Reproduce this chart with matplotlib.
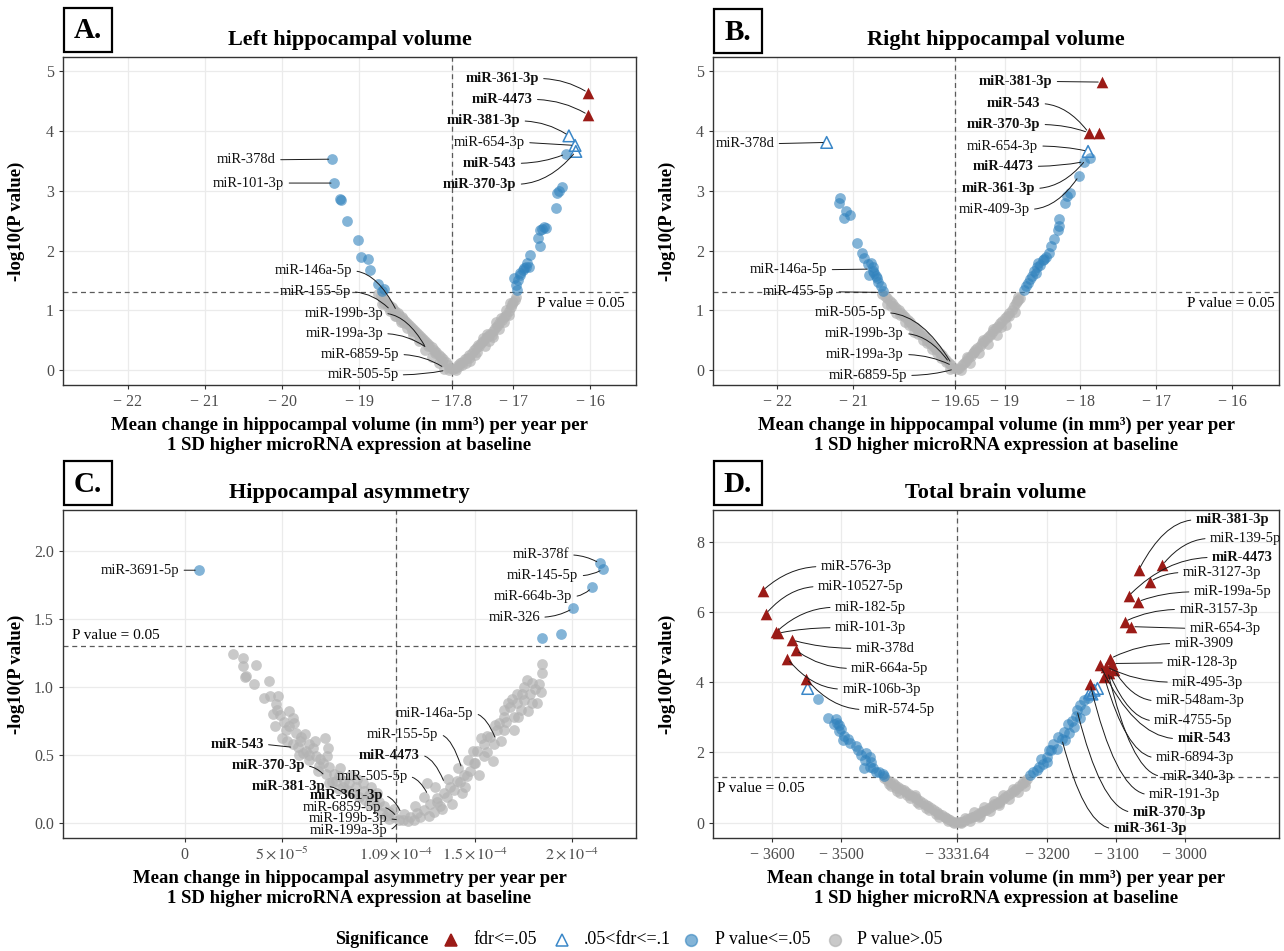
import numpy as np
import matplotlib.pyplot as plt
from matplotlib.lines import Line2D
from matplotlib.patches import Rectangle

plt.rcParams['font.family'] = ['Liberation Serif', 'DejaVu Serif']
plt.rcParams['mathtext.fontset'] = 'stix'

RED = '#9B1B17'
BLUE = '#3182BD'
GREY = '#B3B3B3'
BOLD = {'miR-361-3p', 'miR-4473', 'miR-381-3p', 'miR-543', 'miR-370-3p'}
P_LINE = -np.log10(0.05)

# ---------------- A. Left hippocampal volume ----------------
A_red_x = [-16.03, -16.03]
A_red_y = [4.64, 4.27]
A_open_x = [-16.28, -16.20, -16.19]
A_open_y = [3.92, 3.76, 3.66]
A_blue_x = [-19.35, -19.32, -19.25, -19.23, -19.16, -19.01, -18.98, -18.88, -18.86, -18.75, -18.68, -18.71,
            -16.32, -16.37, -16.41, -16.43, -16.45, -16.60, -16.63, -16.58, -16.66, -16.68, -16.66, -16.78,
            -16.82, -16.80, -16.83, -16.88, -16.92, -16.99, -16.94, -16.97, -16.95, -16.91, -16.86]
A_blue_y = [3.53, 3.13, 2.86, 2.85, 2.50, 2.18, 1.90, 1.86, 1.68, 1.44, 1.35, 1.32,
            3.62, 3.06, 2.99, 2.96, 2.71, 2.39, 2.36, 2.37, 2.35, 2.21, 2.07, 1.93,
            1.80, 1.73, 1.72, 1.68, 1.59, 1.54, 1.51, 1.42, 1.34, 1.62, 1.70]
A_grey_x = [-18.76, -18.72, -18.69, -18.66, -18.64, -18.61, -18.58, -18.56, -18.53, -18.50,
            -18.48, -18.45, -18.43, -18.40, -18.38, -18.35, -18.33, -18.30, -18.28, -18.25,
            -18.22, -18.20, -18.17, -18.14, -18.12, -18.09, -18.06, -18.03, -18.00, -17.97,
            -17.94, -17.91, -17.88, -17.85, -17.82, -18.60, -18.52, -18.42, -18.32, -18.21,
            -18.11, -18.02, -17.92, -18.68, -18.46,
            -18.70, -18.62, -18.54, -18.46, -18.38, -18.30, -18.22, -18.14, -18.06, -17.96,
            -17.90, -17.84,
            -17.78, -17.75, -17.72, -17.69, -17.66, -17.63, -17.60, -17.57, -17.54, -17.51,
            -17.48, -17.45, -17.42, -17.39, -17.36, -17.33, -17.30, -17.27, -17.24, -17.21,
            -17.18, -17.15, -17.12, -17.09, -17.06, -17.03, -17.00, -16.97, -17.70, -17.58,
            -17.46, -17.40, -17.34, -17.28, -17.22, -17.16, -17.10, -17.04, -17.50, -17.62,
            -17.74, -17.66, -17.56, -17.47, -17.37, -17.26, -17.18, -17.12, -17.06, -17.02,
            -16.98, -17.32]
A_grey_y = [1.27, 1.24, 1.19, 1.17, 1.12, 1.09, 1.05, 1.03, 0.99, 0.95,
            0.92, 0.88, 0.86, 0.82, 0.79, 0.75, 0.72, 0.69, 0.66, 0.62,
            0.59, 0.56, 0.52, 0.48, 0.46, 0.42, 0.38, 0.34, 0.30, 0.26,
            0.22, 0.18, 0.13, 0.09, 0.04, 0.99, 0.90, 0.78, 0.65, 0.52,
            0.40, 0.28, 0.16, 1.12, 0.84,
            1.10, 1.05, 0.90, 0.80, 0.70, 0.58, 0.48, 0.34, 0.22, 0.12,
            0.02, 0.00,
            0.01, 0.04, 0.08, 0.11, 0.14, 0.18, 0.21, 0.25, 0.29, 0.33,
            0.37, 0.41, 0.45, 0.49, 0.53, 0.57, 0.61, 0.65, 0.70, 0.74,
            0.78, 0.83, 0.88, 0.93, 0.99, 1.05, 1.14, 1.22, 0.06, 0.20,
            0.42, 0.53, 0.60, 0.58, 0.81, 0.87, 1.00, 1.12, 0.26, 0.12,
            0.00, 0.08, 0.16, 0.30, 0.40, 0.55, 0.68, 0.80, 0.92, 1.10,
            1.18, 0.48]
A_lab = ['miR-361-3p', 'miR-4473', 'miR-381-3p', 'miR-654-3p', 'miR-543', 'miR-370-3p', 'miR-378d',
         'miR-101-3p', 'miR-146a-5p', 'miR-155-5p', 'miR-199b-3p', 'miR-199a-3p', 'miR-6859-5p', 'miR-505-5p']
A_lab_x = [-16.03, -16.03, -16.28, -16.20, -16.32, -16.19, -19.35, -19.32, -18.51, -18.59, -18.13, -18.11, -17.89, -17.87]
A_lab_y = [4.64, 4.27, 3.92, 3.76, 3.62, 3.66, 3.53, 3.13, 0.98, 1.00, 0.36, 0.36, 0.03, 0.00]
A_txt_x = [-16.67, -16.75, -16.91, -16.85, -16.96, -16.96, -20.08, -19.97, -19.09, -19.11, -18.69, -18.69, -18.48, -18.49]
A_txt_y = [4.88, 4.53, 4.17, 3.81, 3.46, 3.11, 3.52, 3.13, 1.66, 1.31, 0.95, 0.61, 0.26, -0.08]

# ---------------- B. Right hippocampal volume ----------------
B_red_x = [-17.72, -17.89, -17.76]
B_red_y = [4.82, 3.97, 3.97]
B_open_x = [-21.35, -17.90]
B_open_y = [3.81, 3.66]
B_blue_x = [-21.19, -21.17, -21.10, -21.12, -21.04, -20.95, -20.89, -20.86, -20.77, -20.74,
            -20.79, -20.74, -20.68, -20.67, -20.63, -20.60, -20.70, -20.72, -20.81,
            -17.95, -17.88, -18.02, -18.14, -18.18, -18.20, -18.28, -18.28, -18.30, -18.35,
            -18.39, -18.42, -18.45, -18.50, -18.56, -18.57, -18.61, -18.64, -18.66, -18.69,
            -18.72, -18.74, -18.53, -18.59, -18.48]
B_blue_y = [2.80, 2.88, 2.67, 2.54, 2.60, 2.12, 1.96, 1.87, 1.79, 1.73,
            1.59, 1.65, 1.54, 1.48, 1.40, 1.33, 1.57, 1.62, 1.78,
            3.49, 3.55, 3.25, 2.96, 2.91, 2.79, 2.53, 2.41, 2.35, 2.19,
            2.07, 1.96, 1.89, 1.84, 1.79, 1.73, 1.65, 1.58, 1.52, 1.46,
            1.40, 1.34, 1.76, 1.62, 1.86]
B_grey_x = [-20.62, -20.58, -20.55, -20.52, -20.49, -20.46, -20.43, -20.40, -20.37, -20.34,
            -20.31, -20.28, -20.25, -20.22, -20.19, -20.16, -20.13, -20.10, -20.07, -20.04,
            -20.01, -19.98, -19.95, -19.92, -19.89, -19.86, -19.83, -19.80, -19.77, -19.74,
            -19.71, -19.68, -20.50, -20.38, -20.26, -20.14, -20.02, -19.90, -19.78,
            -20.56, -20.44, -20.32, -20.20, -20.08, -19.96, -19.84, -19.72,
            -19.63, -19.60, -19.57, -19.54, -19.51, -19.48, -19.45, -19.42, -19.39, -19.36,
            -19.33, -19.30, -19.27, -19.24, -19.21, -19.18, -19.15, -19.12, -19.09, -19.06,
            -19.03, -19.00, -18.97, -18.94, -18.91, -18.88, -18.85, -18.82, -18.80,
            -19.50, -19.40, -19.28, -19.16, -19.05, -18.95, -18.84,
            -19.58, -19.46, -19.34, -19.22, -19.10, -18.98, -18.86, -18.83]
B_grey_y = [1.27, 1.24, 1.20, 1.15, 1.12, 1.07, 1.04, 1.00, 0.96, 0.92,
            0.88, 0.84, 0.80, 0.76, 0.72, 0.68, 0.64, 0.61, 0.57, 0.53,
            0.49, 0.45, 0.41, 0.37, 0.33, 0.29, 0.25, 0.21, 0.17, 0.12,
            0.08, 0.04, 1.08, 0.93, 0.75, 0.60, 0.45, 0.28, 0.14,
            1.10, 0.95, 0.80, 0.64, 0.50, 0.36, 0.20, 0.02,
            0.01, 0.04, 0.08, 0.12, 0.16, 0.20, 0.24, 0.28, 0.33, 0.37,
            0.41, 0.45, 0.49, 0.53, 0.57, 0.61, 0.65, 0.70, 0.74, 0.78,
            0.82, 0.87, 0.91, 0.96, 1.01, 1.07, 1.13, 1.18, 1.21,
            0.22, 0.30, 0.51, 0.68, 0.72, 0.90, 1.15,
            0.00, 0.12, 0.28, 0.44, 0.58, 0.76, 0.98, 1.22]
B_lab = ['miR-381-3p', 'miR-543', 'miR-370-3p', 'miR-654-3p', 'miR-4473', 'miR-361-3p', 'miR-409-3p',
         'miR-378d', 'miR-146a-5p', 'miR-455-5p', 'miR-505-5p', 'miR-199b-3p', 'miR-199a-3p', 'miR-6859-5p']
B_lab_x = [-17.72, -17.89, -17.89, -17.90, -17.95, -17.93, -18.02, -21.35, -20.77, -20.63, -19.70, -19.73, -19.69, -19.66]
B_lab_y = [4.82, 3.97, 3.97, 3.66, 3.49, 3.52, 3.25, 3.81, 1.69, 1.30, 0.10, 0.12, 0.07, 0.02]
B_txt_x = [-18.37, -18.53, -18.53, -18.56, -18.62, -18.60, -18.67, -22.04, -21.34, -21.25, -20.57, -20.33, -20.33, -20.29]
B_txt_y = [4.83, 4.46, 4.11, 3.75, 3.41, 3.04, 2.69, 3.79, 1.68, 1.31, 0.96, 0.61, 0.26, -0.09]

# ---------------- C. Hippocampal asymmetry (x in units of 1e-5) ----------------
C_blue_x = [0.72, 21.42, 21.59, 21.02, 20.04, 18.45, 19.43]
C_blue_y = [1.857, 1.907, 1.865, 1.73, 1.577, 1.356, 1.388]
C_grey_x = [2.47, 2.99, 3.03, 3.13, 3.17, 3.67, 4.33, 4.10, 4.79, 4.71,
            4.76, 4.67, 5.14, 5.40, 5.40, 5.65, 5.74, 5.57, 6.00, 6.22,
            5.83, 6.26, 6.43, 6.60, 7.25, 6.77, 7.12, 7.32, 7.46, 7.72,
            7.98, 8.24, 8.49, 8.84, 9.18, 9.27, 9.53, 9.78, 10.04, 10.30,
            10.56, 10.82, 11.08, 7.46, 7.98, 10.20, 10.56, 9.87, 9.53, 9.01,
            8.67, 8.15, 7.81, 7.29, 6.94, 6.43, 6.08, 4.90, 5.25, 5.95,
            4.55,
            5.00, 5.30, 5.90, 6.40, 6.90, 7.00, 7.60, 8.00, 8.40, 8.90,
            9.30, 9.90, 10.40, 10.80, 11.30, 6.70, 5.60, 4.40, 3.60, 8.60,
            9.60, 7.40,
            11.29, 11.64, 11.98, 12.33, 12.67, 12.33, 13.02, 13.36, 13.71, 12.50,
            14.05, 14.40, 14.48, 14.31, 14.74, 15.00, 15.09, 15.43, 15.78, 16.12,
            16.21, 16.47, 16.81, 16.90, 17.16, 17.50, 17.67, 18.28, 18.45, 18.45,
            17.16, 17.50, 17.33, 16.47, 15.95, 15.43, 14.91, 14.57, 13.88, 13.53,
            13.19, 12.84, 12.16, 11.81, 17.84, 18.10, 17.93, 16.98, 16.60, 15.60,
            14.20, 13.00, 11.50,
            11.90, 12.60, 13.30, 13.80, 14.10, 14.60, 15.20, 15.60, 15.90, 16.30,
            16.70, 17.00, 17.40, 17.70, 17.90, 18.20, 18.40, 16.00, 14.90, 13.60,
            12.90, 15.30, 16.50, 17.20]
C_grey_y = [1.24, 1.21, 1.15, 1.07, 1.08, 1.16, 1.04, 0.92, 0.93, 0.87,
            0.83, 0.71, 0.74, 0.82, 0.71, 0.73, 0.66, 0.58, 0.63, 0.65,
            0.56, 0.53, 0.58, 0.55, 0.62, 0.49, 0.44, 0.49, 0.41, 0.36,
            0.34, 0.31, 0.29, 0.26, 0.29, 0.23, 0.20, 0.19, 0.15, 0.12,
            0.08, 0.04, 0.02, 0.29, 0.25, 0.07, 0.03, 0.12, 0.14, 0.19,
            0.22, 0.26, 0.31, 0.36, 0.42, 0.46, 0.51, 0.79, 0.68, 0.60,
            0.80,
            0.62, 0.60, 0.50, 0.50, 0.38, 0.47, 0.30, 0.40, 0.24, 0.32,
            0.17, 0.22, 0.05, 0.10, 0.06, 0.60, 0.77, 0.93, 1.02, 0.35,
            0.26, 0.55,
            0.02, 0.04, 0.07, 0.09, 0.14, 0.19, 0.18, 0.22, 0.26, 0.29,
            0.31, 0.35, 0.26, 0.22, 0.38, 0.44, 0.53, 0.58, 0.63, 0.68,
            0.73, 0.78, 0.85, 0.91, 0.95, 1.00, 1.05, 1.02, 1.10, 1.17,
            0.88, 0.90, 0.83, 0.68, 0.58, 0.49, 0.44, 0.34, 0.24, 0.19,
            0.12, 0.08, 0.04, 0.02, 0.95, 0.98, 0.88, 0.78, 0.74, 0.52,
            0.30, 0.15, 0.01,
            0.12, 0.05, 0.10, 0.14, 0.40, 0.46, 0.35, 0.64, 0.45, 0.60,
            0.88, 0.68, 0.95, 0.82, 1.03, 0.88, 0.96, 0.72, 0.53, 0.32,
            0.26, 0.62, 0.83, 0.78]
C_lab = ['miR-3691-5p', 'miR-378f', 'miR-145-5p', 'miR-664b-3p', 'miR-326', 'miR-146a-5p', 'miR-155-5p',
         'miR-4473', 'miR-505-5p', 'miR-543', 'miR-370-3p', 'miR-381-3p', 'miR-361-3p', 'miR-6859-5p',
         'miR-199b-3p', 'miR-199a-3p']
C_lab_x = [0.72, 21.42, 21.59, 21.02, 20.04, 16.07, 14.31, 13.42, 12.57, 5.65, 7.26, 8.32, 11.19, 10.95, 11.10, 11.05]
C_lab_y = [1.857, 1.907, 1.865, 1.73, 1.577, 0.607, 0.393, 0.287, 0.20, 0.553, 0.34, 0.20, 0.066, 0.04, 0.02, 0.01]
C_txt_x = [-0.28, 19.83, 20.32, 20.0, 18.34, 14.9, 13.1, 12.14, 11.5, 4.08, 6.2, 7.26, 10.23, 10.13, 10.45, 10.45]
C_txt_y = [1.857, 1.97, 1.816, 1.663, 1.511, 0.803, 0.649, 0.496, 0.34, 0.577, 0.418, 0.268, 0.20, 0.115, 0.03, -0.055]

# ---------------- D. Total brain volume ----------------
D_red_x = [-3614.2, -3609.5, -3594.1, -3591.7, -3571.0, -3565.7, -3578.1, -3550.9,
           -3066.9, -3032.6, -3050.4, -3081.7, -3068.0, -3087.6, -3077.5,
           -3108.3, -3105.4, -3123.0, -3114.0, -3102.5, -3109.6, -3117.0, -3137.8, -3112.0]
D_red_y = [6.60, 5.94, 5.43, 5.39, 5.20, 4.91, 4.67, 4.10,
           7.19, 7.33, 6.86, 6.45, 6.29, 5.72, 5.58,
           4.67, 4.53, 4.48, 4.44, 4.34, 4.25, 4.15, 3.96, 4.30]
D_open_x = [-3548.6, -3137.8, -3131.9, -3127.0, -3135.0]
D_open_y = [3.82, 3.70, 3.77, 3.82, 3.66]
D_blue_x = [-3533.0, -3518.4, -3508.0, -3505.7, -3502.4, -3499.5, -3503.3, -3496.2, -3497.6, -3486.8,
            -3478.8, -3475.0, -3470.3, -3463.2, -3458.5, -3456.1, -3465.6, -3466.5, -3453.8, -3449.1,
            -3444.3, -3439.6, -3437.3, -3458.5, -3489.2, -3510.4,
            -3225.5, -3220.6, -3215.0, -3211.7, -3205.8, -3201.0, -3197.0, -3191.0, -3184.0, -3176.0,
            -3170.0, -3164.0, -3158.5, -3157.0, -3152.6, -3146.7, -3152.6, -3161.5, -3179.0, -3194.0,
            -3209.0, -3141.0, -3186.0, -3168.0, -3200.0, -3174.0, -3145.0]
D_blue_y = [3.51, 2.98, 2.95, 2.85, 2.77, 2.66, 2.61, 2.46, 2.35, 2.27,
            2.17, 2.08, 1.93, 1.98, 1.88, 1.74, 1.79, 1.55, 1.55, 1.45,
            1.45, 1.38, 1.32, 1.59, 2.37, 2.80,
            1.36, 1.44, 1.50, 1.59, 1.68, 1.87, 2.06, 2.23, 2.44, 2.58,
            2.82, 2.90, 3.03, 3.22, 3.34, 3.49, 2.98, 2.73, 2.39, 2.06,
            1.82, 3.56, 2.10, 2.55, 1.72, 2.35, 3.20]
D_grey_x = [-3437, -3433, -3429, -3425, -3421, -3417, -3413, -3409, -3405, -3401,
            -3397, -3393, -3389, -3385, -3381, -3377, -3373, -3369, -3365, -3361,
            -3357, -3353, -3349, -3345, -3341, -3337, -3333,
            -3428, -3414, -3400, -3386, -3372, -3358, -3344, -3420, -3392,
            -3430, -3418, -3404, -3390, -3376, -3362, -3348, -3335,
            -3329, -3325, -3321, -3317, -3313, -3309, -3305, -3301, -3297, -3293,
            -3289, -3285, -3281, -3277, -3273, -3269, -3265, -3261, -3257, -3253,
            -3249, -3245, -3241, -3237, -3233, -3229,
            -3320, -3306, -3292, -3278, -3264, -3250, -3236, -3300, -3270,
            -3326, -3312, -3298, -3284, -3270, -3256, -3242, -3232]
D_grey_y = [1.27, 1.22, 1.17, 1.12, 1.07, 1.02, 0.97, 0.92, 0.87, 0.82,
            0.77, 0.72, 0.66, 0.61, 0.56, 0.51, 0.46, 0.41, 0.36, 0.31,
            0.26, 0.21, 0.16, 0.11, 0.07, 0.03, 0.01,
            1.05, 0.85, 0.70, 0.52, 0.35, 0.17, 0.05, 1.00, 0.80,
            1.10, 0.90, 0.78, 0.58, 0.42, 0.26, 0.12, 0.00,
            0.01, 0.03, 0.06, 0.09, 0.12, 0.16, 0.20, 0.24, 0.29, 0.33,
            0.37, 0.42, 0.47, 0.52, 0.57, 0.62, 0.67, 0.72, 0.78, 0.84,
            0.90, 0.96, 1.03, 1.10, 1.17, 1.24,
            0.14, 0.29, 0.45, 0.62, 0.80, 0.97, 1.15, 0.17, 0.55,
            0.00, 0.06, 0.19, 0.34, 0.50, 0.68, 0.88, 1.05]
D_lab = ['miR-576-3p', 'miR-10527-5p', 'miR-182-5p', 'miR-101-3p', 'miR-378d', 'miR-664a-5p',
         'miR-106b-3p', 'miR-574-5p', 'miR-381-3p', 'miR-139-5p', 'miR-4473', 'miR-3127-3p',
         'miR-199a-5p', 'miR-3157-3p', 'miR-654-3p', 'miR-3909', 'miR-128-3p', 'miR-495-3p',
         'miR-548am-3p', 'miR-4755-5p', 'miR-543', 'miR-6894-3p', 'miR-340-3p', 'miR-191-3p',
         'miR-370-3p', 'miR-361-3p']
D_lab_x = [-3614.2, -3609.5, -3594.1, -3591.7, -3571.0, -3565.7, -3578.1, -3550.9, -3066.9, -3032.6,
           -3081.7, -3050.4, -3068.0, -3087.6, -3077.5, -3108.3, -3105.4, -3114.0, -3102.5, -3109.6,
           -3123.0, -3117.0, -3112.0, -3137.8, -3157.0, -3179.0]
D_lab_y = [6.60, 5.94, 5.43, 5.39, 5.20, 4.91, 4.67, 4.10, 7.19, 7.33,
           6.45, 6.86, 6.29, 5.72, 5.58, 4.67, 4.53, 4.44, 4.34, 4.25,
           4.48, 4.15, 4.30, 3.96, 3.22, 2.39]
D_txt_x = [-3529.7, -3533.8, -3509.0, -3509.0, -3478.8, -3485.3, -3498.3, -3467.0, -2984.2, -2963.5,
           -2960.5, -3003.0, -2987.0, -3008.0, -2993.0, -3015.0, -3025.6, -3018.4, -3042.0, -3044.5,
           -3010.8, -3042.0, -3032.6, -3052.0, -3075.8, -3103.6]
D_txt_y = [7.29, 6.72, 6.13, 5.55, 4.96, 4.39, 3.80, 3.22, 8.62, 8.09,
           7.55, 7.12, 6.57, 6.07, 5.53, 5.10, 4.55, 4.00, 3.47, 2.90,
           2.39, 1.85, 1.32, 0.80, 0.30, -0.17]

XLAB_HIPPO = 'Mean change in hippocampal volume (in mm³) per year per\n1 SD higher microRNA expression at baseline'
XLAB_ASYM = 'Mean change in hippocampal asymmetry per year per\n1 SD higher microRNA expression at baseline'
XLAB_TBV = 'Mean change in total brain volume (in mm³) per year per\n1 SD higher microRNA expression at baseline'

W, H = 1284, 951
fig = plt.figure(figsize=(W / 100, H / 100), dpi=100)


def px_axes(left, top, right, bottom):
    return fig.add_axes([left / W, 1 - bottom / H, (right - left) / W, (bottom - top) / H])


def draw_points(ax, gx, gy, bx, by, ox, oy, rx, ry):
    ax.scatter(gx, gy, s=60, color=GREY, alpha=0.7, lw=0, zorder=3)
    ax.scatter(bx, by, s=60, color=BLUE, alpha=0.6, lw=0, zorder=4)
    if len(ox):
        ax.scatter(ox, oy, s=70, marker='^', facecolors='none', edgecolors='#3A87C8', lw=1.1, zorder=5)
    if len(rx):
        ax.scatter(rx, ry, s=70, marker='^', color=RED, lw=0, zorder=6)


def style(ax, xlim, ylim, xt, xtl, yt, ytl, cx, title, xlabel):
    ax.set_xlim(xlim)
    ax.set_ylim(ylim)
    ax.set_xticks(xt)
    ax.set_xticklabels(xtl)
    ax.set_yticks(yt)
    ax.set_yticklabels(ytl)
    ax.grid(True, color='#EBEBEB', lw=0.9)
    ax.set_axisbelow(True)
    ax.axvline(cx, color='#5A5A5A', lw=0.9, ls=(0, (4, 3)), zorder=2)
    ax.axhline(P_LINE, color='#5A5A5A', lw=0.9, ls=(0, (4, 3)), zorder=2)
    for sp in ax.spines.values():
        sp.set_color('#333333')
        sp.set_linewidth(1.0)
    ax.tick_params(length=3, width=0.8, color='#333333', labelcolor='#4D4D4D', labelsize=11.5)
    ax.set_ylabel('-log10(P value)', fontsize=13.5, fontweight='bold')
    ax.yaxis.set_label_coords(-0.066, 0.5)
    ax.set_xlabel(xlabel, fontsize=13.5, fontweight='bold', linespacing=1.2)
    ax.xaxis.set_label_coords(0.5, -0.098)
    ax.text(0.5, 1.052, title, transform=ax.transAxes, ha='center', va='center',
            fontsize=16, fontweight='bold')


def add_labels(ax, names, px, py, tx, ty, ha):
    rel = (1, 0.5) if ha == 'right' else (0, 0.5)
    for n, x0, y0, x1, y1 in zip(names, px, py, tx, ty):
        p = ax.transData.transform((x0, y0))
        t = ax.transData.transform((x1, y1))
        dx, dy = p[0] - t[0], p[1] - t[1]
        if abs(dy) < 4:
            cs = 'arc3'
        else:
            cxp, cyp = t[0] + 0.55 * dx, t[1]
            ang = np.degrees(np.arctan2(cyp - p[1], cxp - p[0]))
            cs = f'angle3,angleA=0,angleB={ang:.1f}'
        ax.annotate(n, xy=(x0, y0), xytext=(x1, y1), ha=ha, va='center', fontsize=10.5,
                    fontweight='bold' if n in BOLD else 'normal', color='#111111', zorder=7,
                    annotation_clip=False,
                    arrowprops=dict(arrowstyle='-', color='#1A1A1A', lw=0.7, shrinkA=1.5, shrinkB=2.5,
                                    relpos=rel, connectionstyle=cs))


def panel_letter(letter, x0, y0):
    fig.add_artist(Rectangle((x0 / W, 1 - (y0 + 44) / H), 48 / W, 44 / H, transform=fig.transFigure,
                             fill=False, ec='black', lw=1.6))
    fig.text((x0 + 24) / W, 1 - (y0 + 23) / H, letter, ha='center', va='center',
             fontsize=21, fontweight='bold')


def minus(v):
    return '\u2212 ' + v


# A
axA = px_axes(63, 57, 636, 385)
style(axA, (-22.84, -15.41), (-0.25, 5.24),
      [-22, -21, -20, -19, -17.8, -17, -16], [minus(s) for s in ['22', '21', '20', '19', '17.8', '17', '16']],
      [0, 1, 2, 3, 4, 5], ['0', '1', '2', '3', '4', '5'], -17.8, 'Left hippocampal volume', XLAB_HIPPO)
draw_points(axA, A_grey_x, A_grey_y, A_blue_x, A_blue_y, A_open_x, A_open_y, A_red_x, A_red_y)
axA.text(-15.55, 1.12, 'P value = 0.05', ha='right', va='center', fontsize=11)
add_labels(axA, A_lab, A_lab_x, A_lab_y, A_txt_x, A_txt_y, 'right')

# B
axB = px_axes(713, 57, 1279, 385)
style(axB, (-22.85, -15.38), (-0.25, 5.24),
      [-22, -21, -19.65, -19, -18, -17, -16], [minus(s) for s in ['22', '21', '19.65', '19', '18', '17', '16']],
      [0, 1, 2, 3, 4, 5], ['0', '1', '2', '3', '4', '5'], -19.65, 'Right hippocampal volume', XLAB_HIPPO)
draw_points(axB, B_grey_x, B_grey_y, B_blue_x, B_blue_y, B_open_x, B_open_y, B_red_x, B_red_y)
axB.text(-15.44, 1.11, 'P value = 0.05', ha='right', va='center', fontsize=11)
add_labels(axB, B_lab, B_lab_x, B_lab_y, B_txt_x, B_txt_y, 'right')

# C
e5 = 1e-5
axC = px_axes(63, 510, 636, 838)
style(axC, (-6.28 * e5, 23.29 * e5), (-0.113, 2.30),
      [0, 5 * e5, 10.9 * e5, 15 * e5, 20 * e5],
      ['0', r'$5\times10^{-5}$', r'$1.09\times10^{-4}$', r'$1.5\times10^{-4}$', r'$2\times10^{-4}$'],
      [0, 0.5, 1.0, 1.5, 2.0], ['0.0', '0.5', '1.0', '1.5', '2.0'], 10.9 * e5,
      'Hippocampal asymmetry', XLAB_ASYM)
draw_points(axC, np.array(C_grey_x) * e5, C_grey_y, np.array(C_blue_x) * e5, C_blue_y, [], [], [], [])
axC.text(-5.8 * e5, 1.38, 'P value = 0.05', ha='left', va='center', fontsize=11)
add_labels(axC, C_lab, np.array(C_lab_x) * e5, C_lab_y, np.array(C_txt_x) * e5, C_txt_y, 'right')

# D
axD = px_axes(713, 510, 1279, 838)
style(axD, (-3686.3, -2862.9), (-0.437, 8.90),
      [-3600, -3500, -3331.64, -3200, -3100, -3000], [minus(s) for s in ['3600', '3500', '3331.64', '3200', '3100', '3000']],
      [0, 2, 4, 6, 8], ['0', '2', '4', '6', '8'], -3331.64, 'Total brain volume', XLAB_TBV)
draw_points(axD, D_grey_x, D_grey_y, D_blue_x, D_blue_y, D_open_x, D_open_y, D_red_x, D_red_y)
axD.text(-3680, 0.97, 'P value = 0.05', ha='left', va='center', fontsize=11)
add_labels(axD, D_lab, D_lab_x, D_lab_y, D_txt_x, D_txt_y, 'left')

panel_letter('A.', 64, 8)
panel_letter('B.', 714, 9)
panel_letter('C.', 64, 461)
panel_letter('D.', 714, 461)

# legend
ly = 1 - 940 / H
fig.text(335 / W, ly, 'Significance', ha='left', va='center', fontsize=13, fontweight='bold')
items = [(451, 473, '^', RED, RED, 1.0, 'fdr<=.05'),
         (562, 584, '^', 'none', '#3A87C8', 1.0, '.05<fdr<=.1'),
         (691, 715, 'o', BLUE, BLUE, 0.6, 'P value<=.05'),
         (835, 857, 'o', GREY, GREY, 0.7, 'P value>.05')]
for mx, tx, mk, fc, ec, al, lab in items:
    fig.add_artist(Line2D([mx / W], [ly], marker=mk, markersize=8.5, markerfacecolor=fc,
                          markeredgecolor=ec, markeredgewidth=1.1, alpha=al, ls='none',
                          transform=fig.transFigure))
    fig.text(tx / W, ly, lab, ha='left', va='center', fontsize=13)

fig.savefig('out.png', dpi=100, facecolor='white')
